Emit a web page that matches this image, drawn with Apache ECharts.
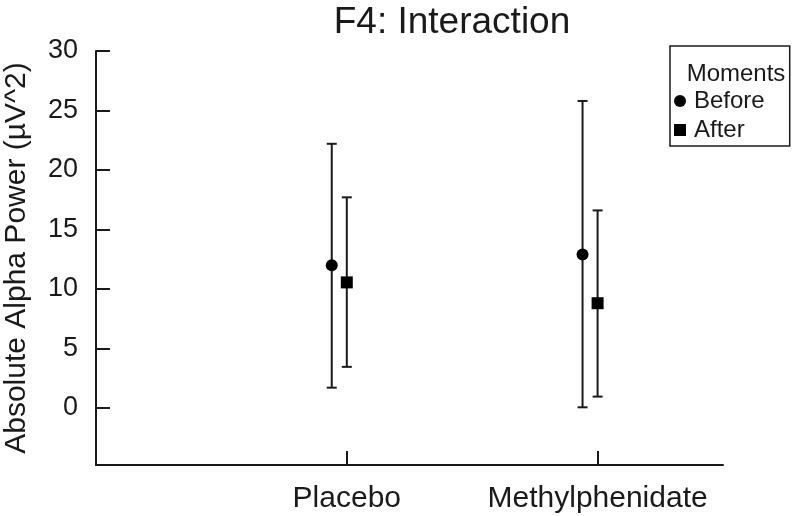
<!DOCTYPE html>
<html>
<head>
<meta charset="utf-8">
<script src="https://cdn.jsdelivr.net/npm/echarts@6/dist/echarts.min.js"></script>
<style>
  html, body { margin: 0; padding: 0; background: #fff; }
  #chart { width: 800px; height: 516px; }
</style>
</head>
<body>
<div id="chart"></div>
<script>
// groups on the x axis (positions 1 and 2)
var groups = ['Placebo', 'Methylphenidate'];
var groupPos = [1, 2];
var yTicks = [0, 5, 10, 15, 20, 25, 30];

// Before: mean, lower, upper
var beforeMean = [12.0, 12.9];
var beforeLow = [1.7, 0.05];
var beforeHigh = [22.2, 25.8];

// After: mean, lower, upper
var afterMean = [10.55, 8.8];
var afterLow = [3.45, 0.95];
var afterHigh = [17.7, 16.6];

var dodge = -0.06; // Before sits a little left of the group tick

var ink = '#1a1a1a';
var font = "'Liberation Sans', Arial, sans-serif";

function pts(means, shift) {
    return means.map(function (v, i) { return [groupPos[i] + shift, v]; });
}
function bars(low, high, shift) {
    return low.map(function (v, i) { return [groupPos[i] + shift, v, high[i]]; });
}

function errRender(params, api) {
    var x = api.value(0);
    var a = api.coord([x, api.value(1)]);
    var b = api.coord([x, api.value(2)]);
    var hw = 5;
    var st = { stroke: ink, lineWidth: 2 };
    return {
        type: 'group',
        children: [
            { type: 'line', shape: { x1: a[0], y1: a[1], x2: b[0], y2: b[1] }, style: st },
            { type: 'line', shape: { x1: a[0] - hw, y1: a[1], x2: a[0] + hw, y2: a[1] }, style: st },
            { type: 'line', shape: { x1: b[0] - hw, y1: b[1], x2: b[0] + hw, y2: b[1] }, style: st }
        ]
    };
}

var chart = echarts.init(document.getElementById('chart'));
chart.setOption({
    animation: false,
    backgroundColor: '#fff',
    textStyle: { fontFamily: font, color: ink },
    title: [{
        text: 'F4: Interaction',
        left: 447,
        textAlign: 'center',
        top: -1,
        textStyle: { fontSize: 37, fontWeight: 'normal', color: ink, fontFamily: font }
    }, {
        text: 'Moments',
        left: 731,
        textAlign: 'center',
        top: 57,
        textStyle: { fontSize: 24, fontWeight: 'normal', color: ink, fontFamily: font }
    }],
    legend: {
        data: [
            { name: 'Before', icon: 'circle' },
            { name: 'After', icon: 'rect' }
        ],
        orient: 'vertical',
        left: 670,
        top: 46,
        itemWidth: 12,
        itemHeight: 12,
        itemGap: 5,
        padding: [43, 25, 4, 4],
        borderColor: ink,
        borderWidth: 1.5,
        textStyle: { fontSize: 24, color: ink, fontFamily: font, padding: [0, 0, 0, 3] }
    },
    grid: { left: 96, right: 77, top: 51, bottom: 51, containLabel: false, outerBoundsMode: 'none' },
    xAxis: {
        type: 'value',
        min: 0,
        max: 2.5,
        axisLine: { onZero: false, lineStyle: { color: ink, width: 2 } },
        axisTick: { inside: true, length: 14, customValues: groupPos, lineStyle: { color: ink, width: 2 } },
        axisLabel: {
            customValues: groupPos,
            fontSize: 30,
            color: ink,
            margin: 19,
            formatter: function (v) { return groups[groupPos.indexOf(v)] || ''; }
        },
        splitLine: { show: false }
    },
    yAxis: {
        type: 'value',
        min: -4.8,
        max: 30,
        name: 'Absolute Alpha Power (\u00b5V^2)',
        nameLocation: 'middle',
        nameGap: 64,
        nameTextStyle: { fontSize: 30, color: ink, fontFamily: font },
        axisLine: { show: true, onZero: false, lineStyle: { color: ink, width: 2 } },
        axisTick: { show: true, inside: true, length: 14, customValues: yTicks, lineStyle: { color: ink, width: 2 } },
        axisLabel: { customValues: yTicks, fontSize: 27, color: ink, margin: 18 },
        splitLine: { show: false }
    },
    series: [
        {
            name: 'Before err',
            type: 'custom',
            renderItem: errRender,
            data: bars(beforeLow, beforeHigh, dodge),
            z: 2
        },
        {
            name: 'After err',
            type: 'custom',
            renderItem: errRender,
            data: bars(afterLow, afterHigh, 0),
            z: 2
        },
        {
            name: 'Before',
            type: 'scatter',
            symbol: 'circle',
            symbolSize: 12,
            itemStyle: { color: '#000', opacity: 1 },
            data: pts(beforeMean, dodge),
            z: 3
        },
        {
            name: 'After',
            type: 'scatter',
            symbol: 'rect',
            symbolSize: 12,
            itemStyle: { color: '#000', opacity: 1 },
            data: pts(afterMean, 0),
            z: 3
        }
    ]
});
</script>
</body>
</html>
